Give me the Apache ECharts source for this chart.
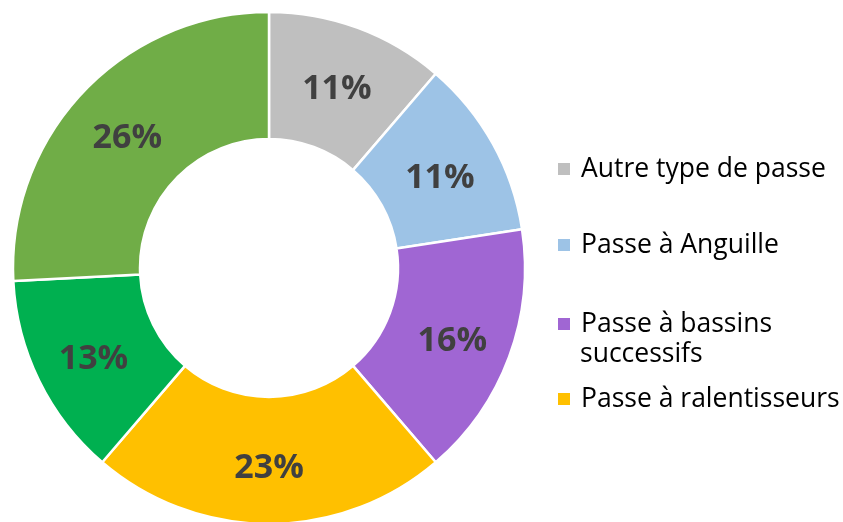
<!DOCTYPE html>
<html>
<head>
<meta charset="utf-8">
<script src="https://cdn.jsdelivr.net/npm/echarts@6/dist/echarts.min.js"></script>
<style>
html,body{margin:0;padding:0;background:#fff;}
#main{width:843px;height:522px;}
</style>
</head>
<body>
<div id="main"></div>
<script>
// Data
const categories = ['Autre type de passe', 'Passe à Anguille', 'Passe à bassins successifs', 'Passe à ralentisseurs', 'Rivière de contournement', 'Passe à macro-rugosités'];
const counts = [7, 7, 10, 14, 8, 16];
const colors = ['#BFBFBF', '#9DC3E6', '#A066D3', '#FFC000', '#00B050', '#70AD47'];
const legendNames = ['Autre type de passe', 'Passe à Anguille', 'Passe à bassins successifs', 'Passe à ralentisseurs'];

const chart = echarts.init(document.getElementById('main'), null, {renderer: 'canvas'});
const FONT = "'Open Sans', 'Liberation Sans', sans-serif";
const legendCenters = [169, 245, 324, 399];
const LH = 30;
const legends = legendNames.map((n, i) => ({
  show: true,
  orient: 'vertical',
  left: 556,
  top: legendCenters[i] - LH / 2,
  padding: 0,
  itemWidth: 14,
  itemHeight: 14,
  icon: 'rect',
  data: [n],
  selectedMode: false,
  formatter: name => name === 'Passe à bassins successifs' ? 'Passe à bassins' : name,
  textStyle: {fontFamily: FONT, fontSize: 26.5, color: '#000', lineHeight: LH, padding: [0, 0, 0, 5]}
}));

chart.setOption({
  animation: false,
  color: colors,
  legend: legends,
  graphic: [{
    type: 'text', left: 580, top: 354 - LH / 2,
    style: {text: 'successifs', fontFamily: FONT, fontSize: 26.5, fill: '#000', lineHeight: LH}
  }],
  series: [{
    type: 'pie',
    center: [269, 268],
    radius: [129, 256],
    startAngle: 90,
    clockwise: true,
    avoidLabelOverlap: false,
    itemStyle: {borderColor: '#fff', borderWidth: 2.5},
    label: {
      show: true, position: 'inside',
      formatter: p => Math.round(p.percent) + '%',
      fontFamily: FONT, fontWeight: 'bold', fontSize: 34, color: '#404040',
      offset: [0, 5]
    },
    labelLine: {show: false},
    emphasis: {disabled: true},
    data: categories.map((c, i) => ({name: c, value: counts[i]}))
  }]
});
</script>
</body>
</html>
